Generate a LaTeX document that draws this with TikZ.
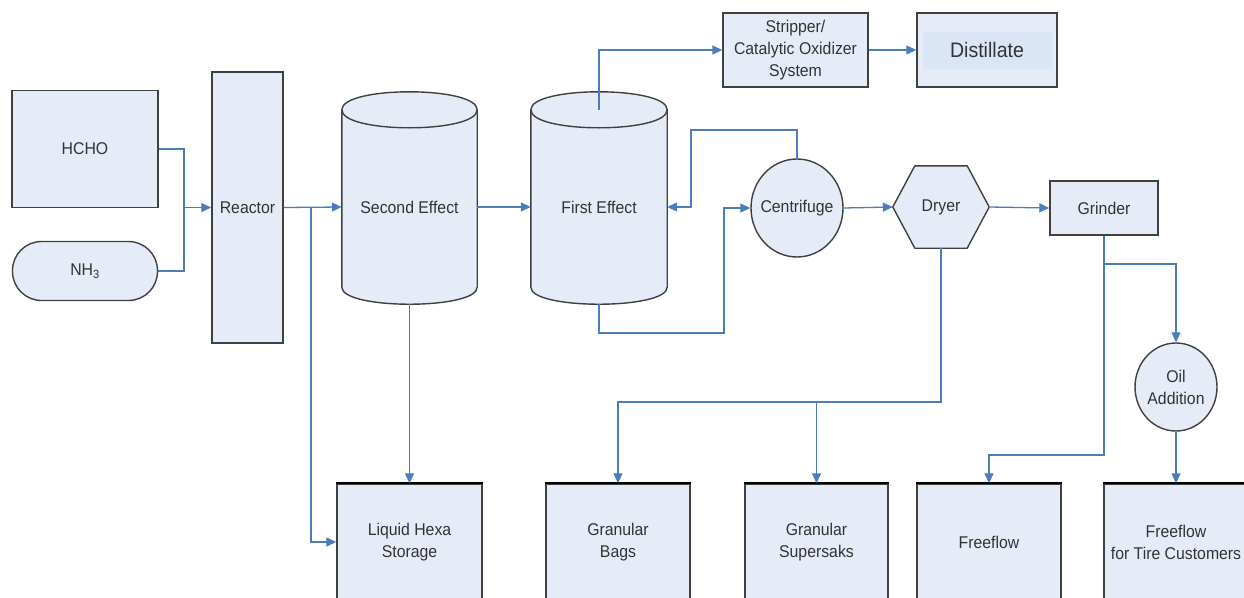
\documentclass[tikz,border=0pt]{standalone}
\usepackage{fontspec}
\setmainfont[FakeStretch=0.93]{Liberation Sans}
\usetikzlibrary{arrows.meta,shapes.geometric,backgrounds}
\definecolor{boxfill}{HTML}{E6ECF7}
\definecolor{edge}{HTML}{404040}
\definecolor{flow}{HTML}{4A7EBB}
\definecolor{innerfill}{HTML}{DAE6F5}
\definecolor{txtc}{HTML}{333333}
\begin{document}
\begin{tikzpicture}[x=1pt,y=-1pt,
  lbl/.style={inner sep=0pt,align=center,text=txtc,font=\fontsize{17}{22}\selectfont},
  box/.style={lbl,draw=edge,fill=boxfill,line width=1.4pt},
  ghost/.style={lbl,draw=none,fill=none},
  oval/.style={ellipse,draw=edge,fill=boxfill,line width=1.4pt,inner sep=0pt},
  shapeline/.style={draw=edge,fill=boxfill,line width=1.4pt,line join=round},
  conn/.style={draw=flow,line width=1.3pt},
  arr/.style={conn,-{Triangle[length=10pt,width=9pt]}}]
\useasboundingbox (0,0) rectangle (1244,597);
\clip (0,0) rectangle (1244,597);

% sources
\node[box,minimum width=146pt,minimum height=117pt] (hcho) at (85,149) {HCHO};
\node[box,minimum width=145pt,minimum height=59pt,rounded corners=29pt] (nh3) at (85,271) {NH\textsubscript{3}};
\node[box,minimum width=71pt,minimum height=271pt] (reactor) at (247.5,207.5) {Reactor};

% evaporators (cylinders)
\node[ghost,minimum width=135pt,minimum height=194pt] (second) at (409.5,207) {Second Effect};
\node[ghost,minimum width=136pt,minimum height=194pt] (first) at (599,207) {First Effect};
\begin{pgfonlayer}{background}
\foreach \c in {second,first}{
  \path[shapeline] (\c.north west)
    .. controls ([yshift=24pt]\c.north west) and ([yshift=24pt]\c.north east) .. (\c.north east)
    -- ([yshift=17pt]\c.south east)
    .. controls ([yshift=-5.7pt]\c.south east) and ([yshift=-5.7pt]\c.south west) .. ([yshift=17pt]\c.south west)
    -- cycle;
  \draw[edge,line width=1.4pt] (\c.north west)
    .. controls ([yshift=-24pt]\c.north west) and ([yshift=-24pt]\c.north east) .. (\c.north east);
}
\end{pgfonlayer}

% top line
\node[box,minimum width=145pt,minimum height=74pt] (stripper) at (795.5,50) {Stripper/\\Catalytic Oxidizer\\System};
\node[box,minimum width=140pt,minimum height=74pt] (distillate) at (987,50) {};
\fill[innerfill] (923,32) rectangle (1053,69);
\node[ghost,font=\fontsize{21}{24}\selectfont] (distT) at (distillate.center) {Distillate};

% centrifuge, dryer, grinder
\node[oval,minimum width=92pt,minimum height=98pt] (centrifuge) at (797,208) {};
\node[ghost] (centT) at (centrifuge.center) {Centrifuge};
\node[ghost,minimum width=96pt,minimum height=82pt] (dryer) at (941,207) {Dryer};
\begin{pgfonlayer}{background}
\path[shapeline] (dryer.west) -- ([xshift=22pt]dryer.north west) -- ([xshift=-22pt]dryer.north east)
  -- (dryer.east) -- ([xshift=-22pt]dryer.south east) -- ([xshift=22pt]dryer.south west) -- cycle;
\end{pgfonlayer}
\node[box,minimum width=108pt,minimum height=54pt] (grinder) at (1104,208) {Grinder};
\node[oval,minimum width=82pt,minimum height=88pt] (oil) at (1176,387) {};
\node[ghost] (oilT) at (oil.center) {Oil\\Addition};

% products
\node[box,minimum width=145pt,minimum height=116pt] (liquid) at (409.5,542) {Liquid Hexa\\Storage};
\node[box,minimum width=144pt,minimum height=116pt] (bags) at (618,542) {Granular\\Bags};
\node[box,minimum width=143pt,minimum height=116pt] (supersaks) at (816.5,542) {Granular\\Supersaks};
\node[box,minimum width=144pt,minimum height=116pt] (freeflow) at (989,542) {Freeflow};
\node[box,minimum width=144pt,minimum height=116pt] (tire) at (1176,542) {Freeflow\\for Tire Customers};
\foreach \b in {liquid,bags,supersaks,freeflow,tire}{
  \draw[black,line width=2.2pt] (\b.north west) -- (\b.north east);
}

% junctions
\coordinate (j1) at (184,207.5);
\coordinate (j2) at (311,207.5);
\coordinate (j3) at (691,130);
\coordinate (j4) at (724,333);
\coordinate (j5) at (941,402);
\coordinate (j6) at (1104,455);
\coordinate (j7) at (1104,264);

% connectors
\draw[conn] (hcho.east) -| (j1) |- (nh3.east);
\draw[arr] (j1) -- (reactor.west);
\draw[arr] (reactor.east) -- (second.west);
\draw[arr] (j2) |- (liquid.west);
\draw[arr] (second.south) -- (liquid.north);
\draw[arr] (second.east) -- (first.west);
\draw[arr] (first.north) |- (stripper.west);
\draw[arr] (stripper.east) -- (distillate.west);
\draw[arr] (centrifuge.north) |- (j3) |- (first.east);
\draw[arr] (first.south) |- (j4) |- (centrifuge.west);
\draw[arr] (centrifuge.east) -- (dryer.west);
\draw[arr] (dryer.east) -- (grinder.west);
\draw[arr] (dryer.south) -- (j5) -| (bags.north);
\draw[arr] (supersaks.north |- j5) -- (supersaks.north);
\draw[arr] (grinder.south) -- (j6) -| (freeflow.north);
\draw[arr] (j7) -| (oil.north);
\draw[arr] (oil.south) -- (tire.north);
\end{tikzpicture}
\end{document}
